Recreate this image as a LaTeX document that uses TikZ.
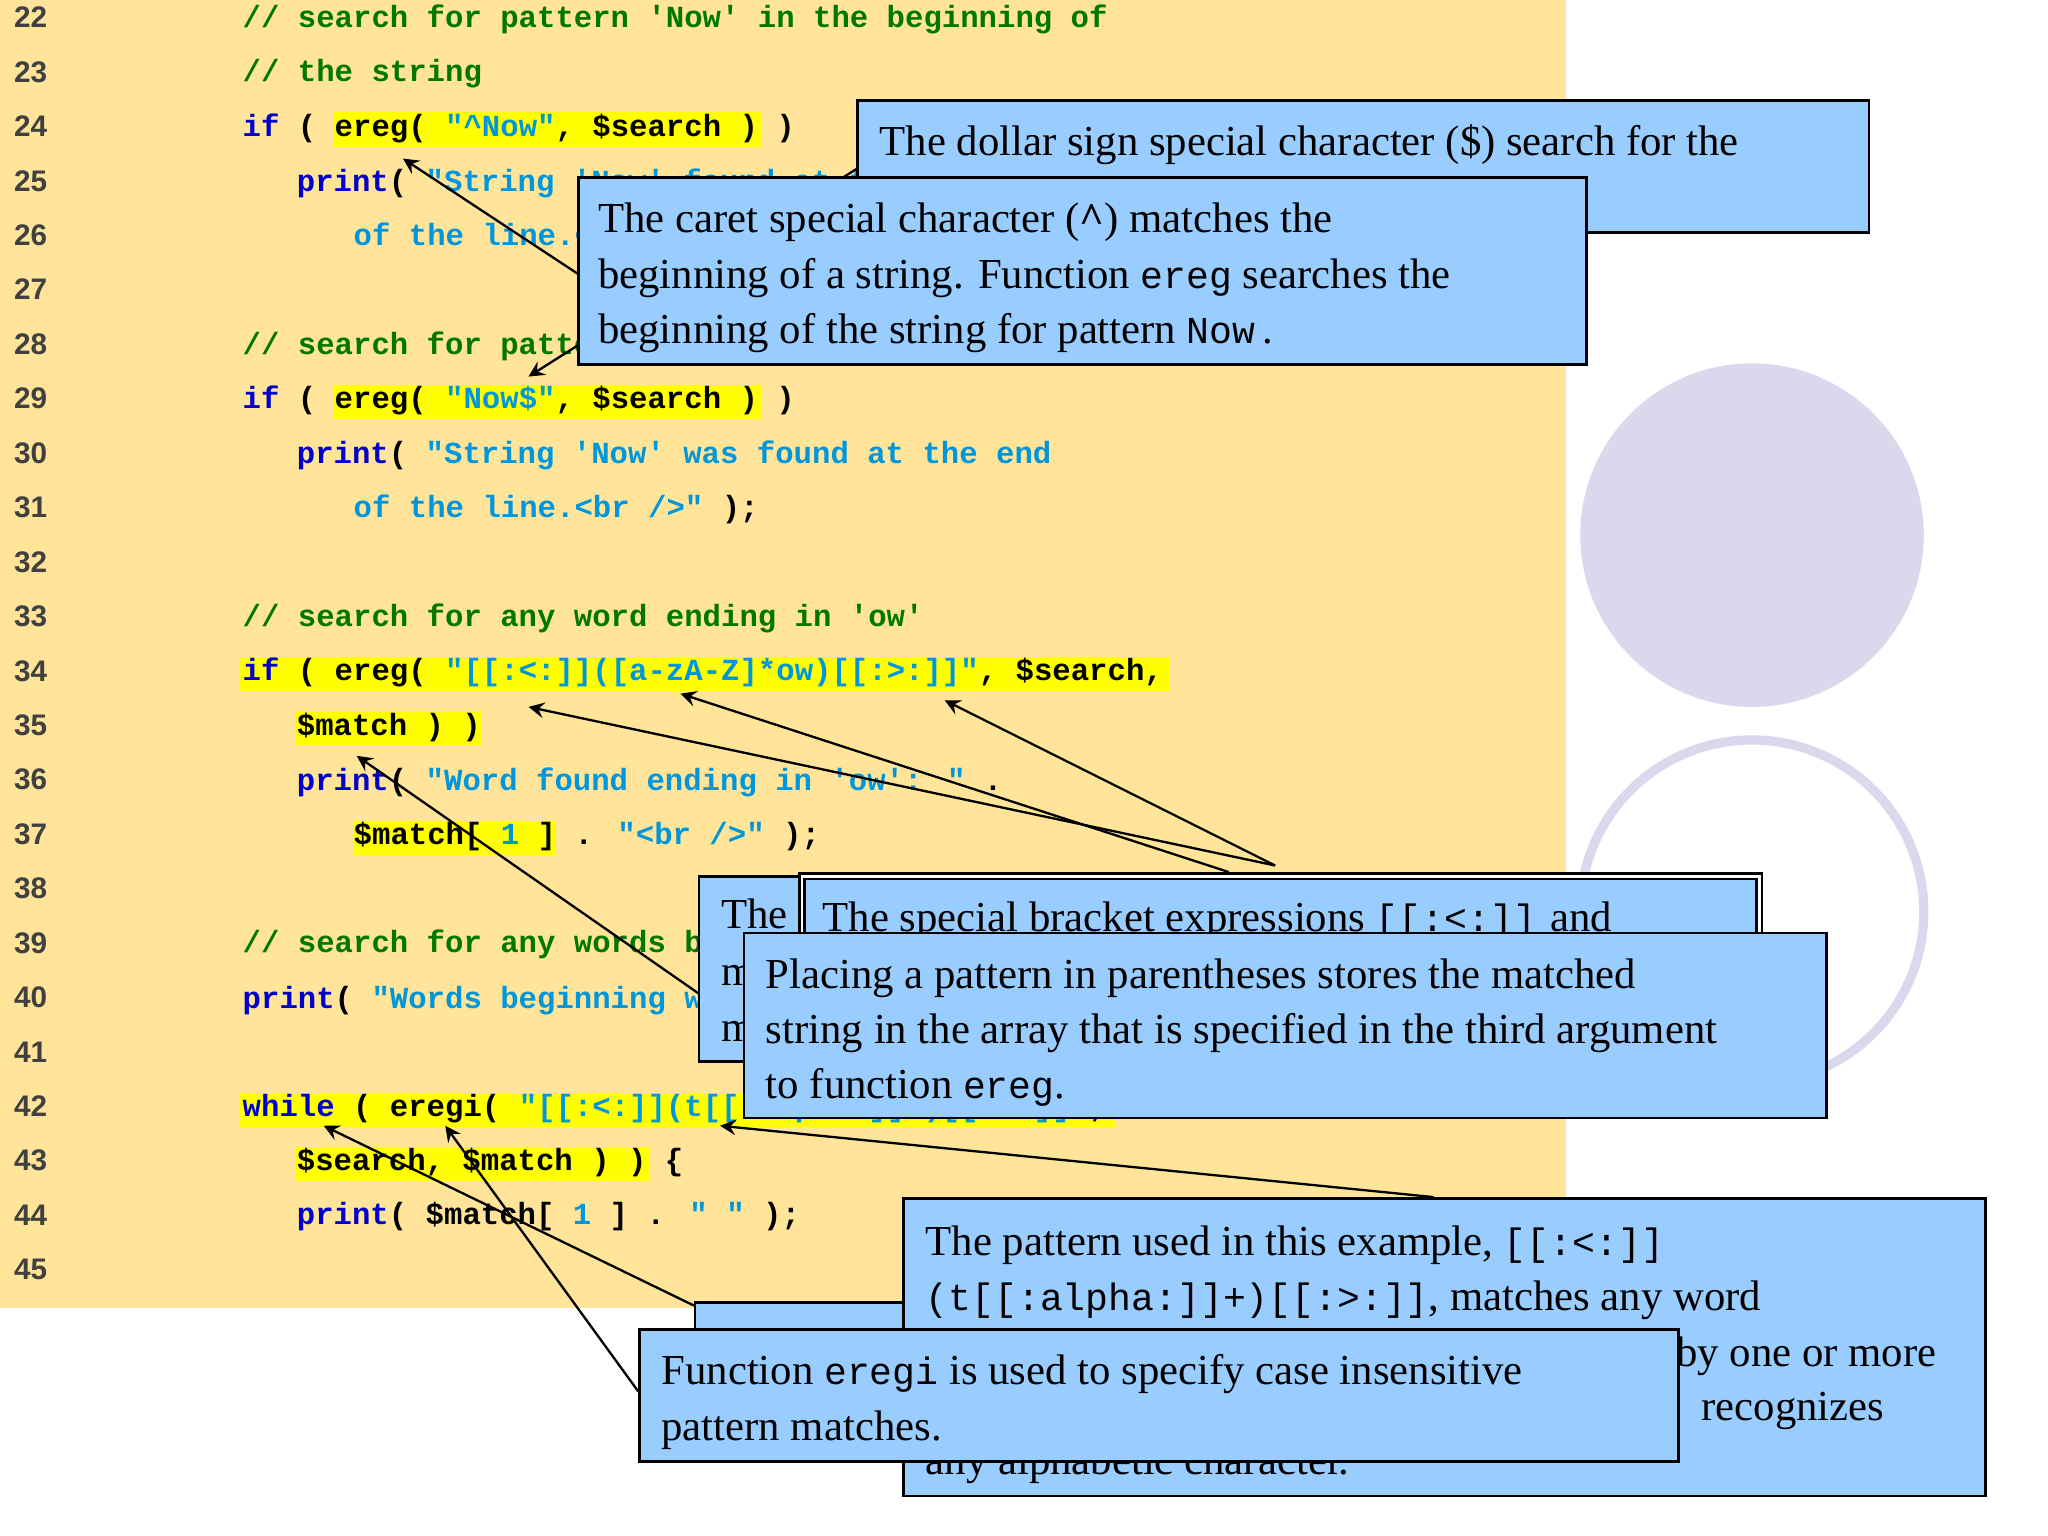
\documentclass[tikz,border=0pt]{standalone}
\usepackage{fontspec}
\setmainfont{Liberation Serif}
\newfontfamily\codefont{Liberation Mono}
\newfontfamily\numfont{Liberation Sans}
\definecolor{codebg}{RGB}{255,228,153}
\definecolor{hilite}{RGB}{255,255,0}
\definecolor{cmgreen}{RGB}{0,120,0}
\definecolor{kwblue}{RGB}{0,0,205}
\definecolor{stcyan}{RGB}{0,150,220}
\definecolor{boxblue}{RGB}{153,204,255}
\definecolor{lavender}{RGB}{218,216,236}
\newcommand\cm[1]{\textcolor{cmgreen}{#1}}
\newcommand\kw[1]{\textcolor{kwblue}{#1}}
\newcommand\st[1]{\textcolor{stcyan}{#1}}
\newcommand\mono[1]{{\codefont\fontsize{8.2}{10}\selectfont #1}}
\begin{document}
\begin{tikzpicture}[x=0.01cm,y=-0.01cm,
  code/.style = {anchor=base west, inner sep=0, font=\codefont\bfseries\fontsize{6.6}{8}\selectfont},
  lnum/.style = {anchor=base west, inner sep=0, text=black!75, font=\numfont\bfseries\fontsize{6.4}{7}\selectfont},
  callout/.style = {draw, fill=boxblue, line width=0.6pt, anchor=north west, inner sep=0},
  say/.style = {anchor=base west, inner sep=0, font=\fontsize{9.2}{11}\selectfont},
  pointer/.style = {-stealth, line width=0.5pt}]
\useasboundingbox (0,0) rectangle (1550,1162);
\fill[white] (0,0) rectangle (1550,1162);
\fill[codebg] (0,0) rectangle (1185,990);

% highlights
\fill[hilite] (252,85) rectangle (576,111);
\fill[hilite] (252,291) rectangle (576,317);
\fill[hilite] (181,497) rectangle (885,523);
\fill[hilite] (224,538) rectangle (364,564);
\fill[hilite] (267,621) rectangle (420,647);
\fill[hilite] (181,827) rectangle (845,853);
\fill[hilite] (224,868) rectangle (492,894);

% line numbers
\foreach \n in {22,...,45}
  \node[lnum] (n\n) at (10,{21+41.2*(\n-22)}) {\n};

% code
\node[code] (c22) at (183,21) {\cm{// search for pattern 'Now' in the beginning of}};
\node[code] (c23) at (183,62) {\cm{// the string}};
\node[code] (c24) at (183,103) {\kw{if} ( ereg( \st{"\textasciicircum Now"}, \$search ) )};
\node[code] (c25) at (224,145) {\kw{print}( \st{"String 'Now' found at the beginning}};
\node[code] (c26) at (267,186) {\st{of the line.<br />"} );};
\node[code] (c28) at (183,268) {\cm{// search for pattern 'Now' at the end of the string}};
\node[code] (c29) at (183,309) {\kw{if} ( ereg( \st{"Now\$"}, \$search ) )};
\node[code] (c30) at (224,351) {\kw{print}( \st{"String 'Now' was found at the end}};
\node[code] (c31) at (267,392) {\st{of the line.<br />"} );};
\node[code] (c33) at (183,474) {\cm{// search for any word ending in 'ow'}};
\node[code] (c34) at (183,515) {\kw{if} ( ereg( \st{"[[:<:]]([a-zA-Z]*ow)[[:>:]]"}, \$search,};
\node[code] (c35) at (224,557) {\$match ) )};
\node[code] (c36) at (224,598) {\kw{print}( \st{"Word found ending in 'ow': "} .};
\node[code] (c37) at (267,639) {\$match[ \st{1} ] . \st{"<br />"} );};
\node[code] (c39) at (183,721) {\cm{// search for any words beginning with 't'}};
\node[code] (c40) at (183,763) {\kw{print}( \st{"Words beginning with 't': "} );};
\node[code] (c42) at (183,845) {\kw{while} ( eregi( \st{"[[:<:]](t[[:alpha:]]+)[[:>:]]"},};
\node[code] (c43) at (224,886) {\$search, \$match ) ) \{};
\node[code] (c44) at (224,927) {\kw{print}( \$match[ \st{1} ] . \st{" "} );};

% circles
\fill[lavender] (1326,405) circle (130);
\draw[lavender, line width=2pt] (1326,690) circle (130);

% dollar callout
\coordinate (dollarTip) at (400,285);
\coordinate (dollarFoot) at (648,128);
\draw[pointer] (dollarFoot) -- (dollarTip);
\node[callout, minimum width=7.65cm, minimum height=1cm] (dollarBox) at (648,75) {};
\node[say] (dollarText) at (665,118) {The dollar sign special character (\$) search for the};

% caret callout
\coordinate (caretTip) at (305,120);
\coordinate (caretFoot) at (437,207);
\draw[pointer] (caretFoot) -- (caretTip);
\node[callout, minimum width=7.62cm, minimum height=1.42cm] (caretBox) at (437,133) {};
\node[say] (caret1) at (452,176) {The caret special character (\textbf{\textasciicircum}) matches the};
\node[say] (caret2) at (452,218) {beginning of a string. Function \mono{ereg} searches the};
\node[say] (caret3) at (452,260) {beginning of the string for pattern \mono{Now}\,.};

% bracket callouts
\coordinate (brackTipA) at (400,535);
\coordinate (brackTipB) at (515,525);
\coordinate (brackTipC) at (715,530);
\coordinate (brackFootA) at (965,655);
\coordinate (brackFootB) at (930,660);
\draw[pointer] (brackFootA) -- (brackTipA);
\draw[pointer] (brackFootA) -- (brackTipC);
\draw[pointer] (brackFootB) -- (brackTipB);
\coordinate (parenTip) at (270,572);
\coordinate (parenFoot) at (562,775);
\draw[pointer] (parenFoot) -- (parenTip);
\node[callout, minimum width=8cm, minimum height=1.4cm] (wordBox) at (528,662) {};
\node[say] (word1) at (545,703) {The};
\node[say] (word2) at (545,746) {m};
\node[say] (word3) at (545,788) {m};
\node[callout, double, minimum width=7.24cm, minimum height=1.4cm] (brackBox) at (606,662) {};
\node[say] (brack1) at (622,705) {The special bracket expressions \mono{[[:<:]]} and};
\node[callout, minimum width=8.19cm, minimum height=1.4cm] (parenBox) at (562,705) {};
\node[say] (paren1) at (579,748) {Placing a pattern in parentheses stores the matched};
\node[say] (paren2) at (579,790) {string in the array that is specified in the third argument};
\node[say] (paren3) at (579,831) {to function \mono{ereg}.};

% eregi callouts
\coordinate (loopTip) at (245,852);
\coordinate (loopFoot) at (525,988);
\coordinate (eregiTip) at (337,852);
\coordinate (eregiFoot) at (483,1053);
\draw[pointer] (loopFoot) -- (loopTip);
\draw[pointer] (eregiFoot) -- (eregiTip);
\node[callout, minimum width=7.45cm, minimum height=1cm] (loopBox) at (525,985) {};

% pattern callout
\coordinate (patTip) at (545,852);
\coordinate (patFoot) at (1085,906);
\draw[pointer] (patFoot) -- (patTip);
\node[callout, minimum width=8.18cm, minimum height=2.25cm] (patBox) at (683,906) {};
\node[say] (pat1) at (700,950) {The pattern used in this example, \mono{[[:<:]]}};
\node[say] (pat2) at (700,992) {\mono{(t[[:alpha:]]+)[[:>:]]}, matches any word};
\node[say] (pat3) at (1268,1034) {by one or more};
\node[say] (pat4) at (1287,1075) {recognizes};
\node[say] (pat5) at (700,1116) {any alphabetic character.};

\node[callout, minimum width=7.86cm, minimum height=1cm] (eregiBox) at (483,1005) {};
\node[say] (eregi1) at (500,1048) {Function \mono{eregi} is used to specify case insensitive};
\node[say] (eregi2) at (500,1090) {pattern matches.};
\end{tikzpicture}
\end{document}
